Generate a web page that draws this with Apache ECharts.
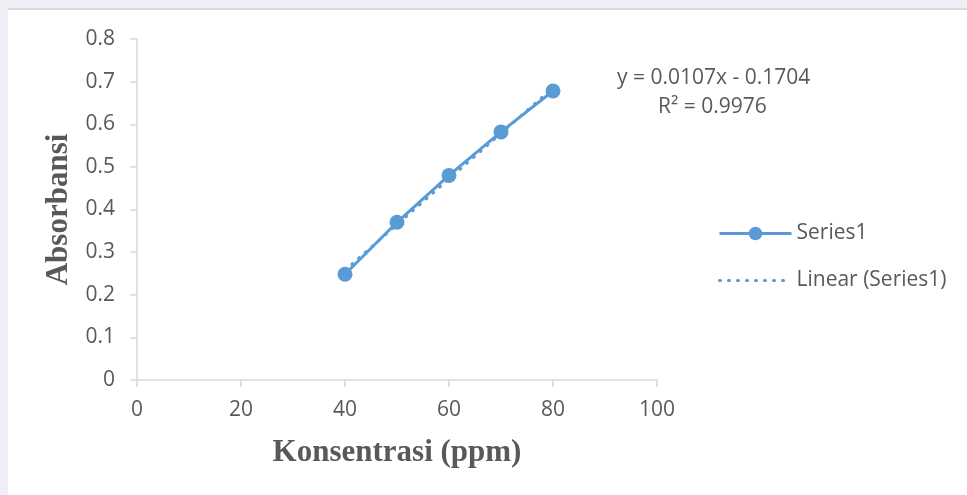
<!DOCTYPE html>
<html>
<head>
    <meta charset="utf-8" />
    <title>Kurva Kalibrasi</title>
    <script src="https://cdn.jsdelivr.net/npm/echarts@6/dist/echarts.min.js"></script>
    <style>
        body { margin: 0; background: #eeeef5; }
        #wrap { position: absolute; left: 8px; top: 8px; width: 959px; height: 487px; background: #fff; border-top: 2px solid #d9d9d9; }
        #main { position: absolute; left: -8px; top: -10px; width: 967px; height: 495px; }
    </style>
</head>
<body>
    <div id="wrap"><div id="main"></div></div>
    <script type="text/javascript">
        // data
        var konsentrasi = [40, 50, 60, 70, 80];
        var absorbansi = [0.248, 0.370, 0.480, 0.582, 0.678];
        // trendline end points, from y = 0.0107x - 0.1704
        var trendX = [40, 80];
        var trendY = [0.2576, 0.6856];
        var xTicks = [0, 20, 40, 60, 80, 100];
        var yTicks = [0, 0.1, 0.2, 0.3, 0.4, 0.5, 0.6, 0.7, 0.8];

        var blue = '#5b9bd5';
        var grey = '#595959';
        var axisGrey = '#d9d9d9';
        var font = 'Open Sans';

        var myChart = echarts.init(document.getElementById('main'));
        myChart.setOption({
            animation: false,
            grid: { left: 137, right: 310, top: 39, bottom: 115 },
            legend: {
                orient: 'vertical',
                left: 713,
                top: 218,
                itemWidth: 72,
                itemHeight: 17,
                itemGap: 26,
                lineStyle: { width: 3 },
                textStyle: { color: grey, fontSize: 21, fontFamily: font },
                data: ['Series1', 'Linear (Series1)']
            },
            xAxis: {
                type: 'value',
                min: xTicks[0], max: xTicks[xTicks.length - 1], interval: 20,
                name: 'Konsentrasi (ppm)',
                nameLocation: 'middle',
                nameGap: 57,
                nameTextStyle: { fontFamily: 'Liberation Serif', fontWeight: 'bold', fontSize: 31, color: grey },
                axisLine: { lineStyle: { color: axisGrey, width: 1.5 } },
                axisTick: { show: true, length: 7, lineStyle: { color: axisGrey, width: 1.5 } },
                axisLabel: { color: grey, fontSize: 21, fontFamily: font, margin: 20 },
                splitLine: { show: false }
            },
            yAxis: {
                type: 'value',
                min: yTicks[0], max: yTicks[yTicks.length - 1], interval: 0.1,
                name: 'Absorbansi',
                nameLocation: 'middle',
                nameGap: 63,
                nameTextStyle: { fontFamily: 'Liberation Serif', fontWeight: 'bold', fontSize: 31, color: grey },
                axisLine: { show: true, lineStyle: { color: axisGrey, width: 1.5 } },
                axisTick: { show: true, length: 7, lineStyle: { color: axisGrey, width: 1.5 } },
                axisLabel: {
                    color: grey, fontSize: 21, fontFamily: font, margin: 22,
                    formatter: function (v) { return Math.round(v * 10) / 10 + ''; }
                },
                splitLine: { show: false }
            },
            series: [
                {
                    name: 'Linear (Series1)',
                    type: 'line',
                    symbol: 'none',
                    z: 1,
                    lineStyle: { color: blue, width: 3, type: [1, 8], cap: 'round' },
                    itemStyle: { color: blue, opacity: 0 },
                    data: trendX.map(function (x, i) { return [x, trendY[i]]; })
                },
                {
                    name: 'Series1',
                    type: 'line',
                    symbol: 'circle',
                    symbolSize: 15,
                    z: 2,
                    lineStyle: { color: blue, width: 3 },
                    itemStyle: { color: blue },
                    data: konsentrasi.map(function (x, i) { return [x, absorbansi[i]]; })
                }
            ],
            graphic: [
                {
                    type: 'text', left: 617, top: 68,
                    style: { text: 'y = 0.0107x - 0.1704', fill: grey, fontSize: 21, fontFamily: font }
                },
                {
                    type: 'text', left: 658, top: 97,
                    style: { text: 'R² = 0.9976', fill: grey, fontSize: 21, fontFamily: font }
                }
            ]
        });
    </script>
</body>
</html>
